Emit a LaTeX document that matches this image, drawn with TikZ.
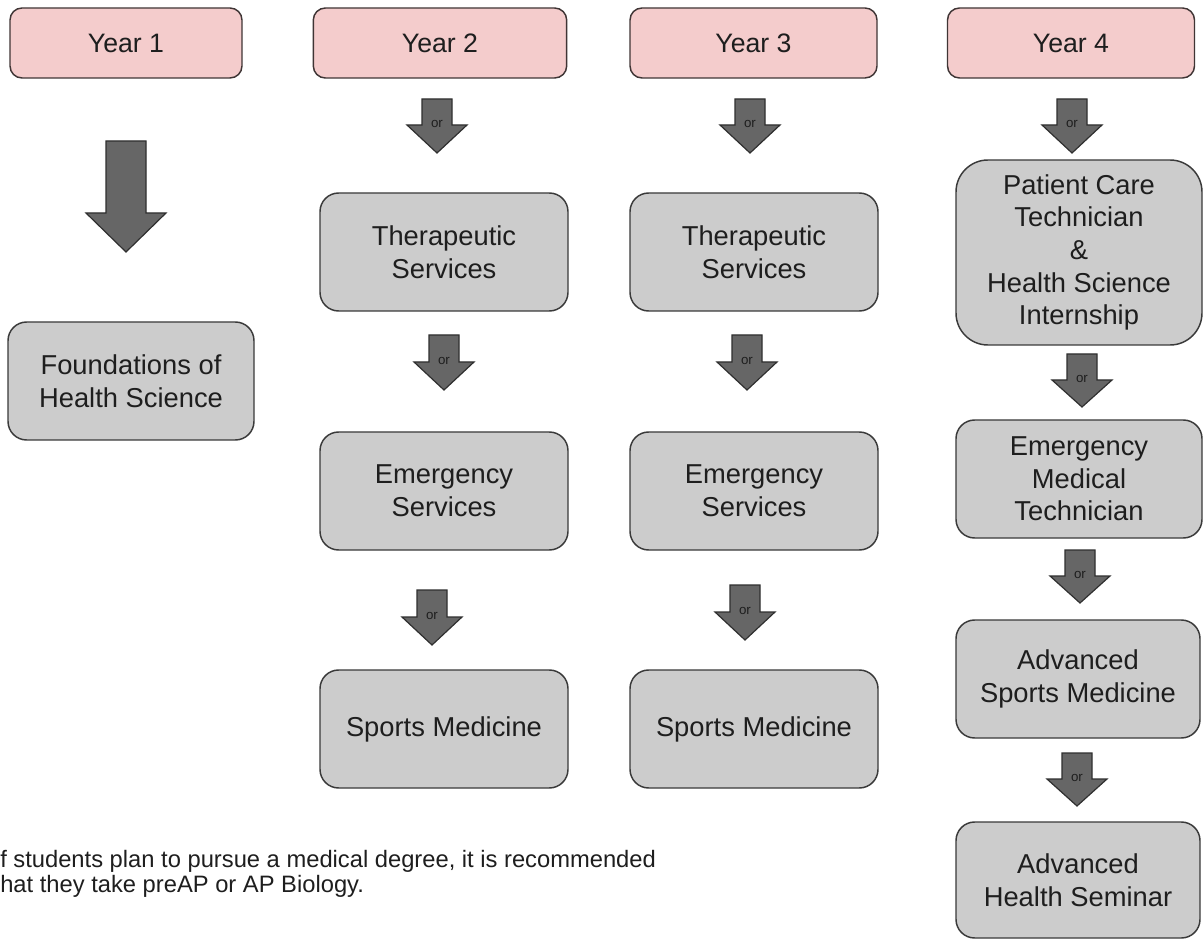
\documentclass[tikz,border=0pt]{standalone}
\usepackage{fontspec}
\setmainfont{Liberation Sans}
\definecolor{pinkfill}{HTML}{F4CCCC}
\definecolor{pinkdraw}{HTML}{3F3535}
\definecolor{greyfill}{HTML}{CCCCCC}
\definecolor{greydraw}{HTML}{3A3A3A}
\definecolor{arrfill}{HTML}{666666}
\definecolor{arrdraw}{HTML}{2F2F2F}
\definecolor{txt}{HTML}{1E1E1E}
\tikzset{
  yearbox/.style={draw=pinkdraw, fill=pinkfill, line width=1.1pt, rounded corners=9pt,
    inner sep=0pt, outer sep=0pt, minimum height=52.5pt, text=txt,
    font=\fontsize{20}{24}\selectfont},
  coursebox/.style={draw=greydraw, fill=greyfill, line width=1.1pt, rounded corners=14pt,
    inner sep=0pt, outer sep=0pt, minimum height=88.5pt, text=txt, align=center,
    font=\fontsize{20.5}{24.5}\selectfont},
  flowarr/.style={draw=arrdraw, fill=arrfill, line width=0.9pt, line join=miter},
  ortext/.style={inner sep=0pt, text=txt, font=\fontsize{10}{11}\selectfont},
  notetext/.style={inner sep=0pt, text=txt, align=left, font=\fontsize{17.8}{18.75}\selectfont}
}
% name, cx, top, base, tip
\newcommand{\orarrow}[5]{%
  \draw[flowarr] ({#2-15},#3) -- ({#2+15},#3) -- ({#2+15},#4) -- ({#2+30},#4) -- (#2,#5)
    -- ({#2-30},#4) -- ({#2-15},#4) -- cycle;
  \node[ortext] (#1) at (#2,{#4-1}) {or};}
\begin{document}
\begin{tikzpicture}[x=0.75pt,y=-0.75pt]
\useasboundingbox (0,0) rectangle (1204,941);
\fill[white] (0,0) rectangle (1204,941);

% year headers
\node[yearbox, minimum width=174pt] (y1) at (126,43) {Year 1};
\node[yearbox, minimum width=190pt] (y2) at (440,43) {Year 2};
\node[yearbox, minimum width=185.25pt] (y3) at (753.5,43) {Year 3};
\node[yearbox, minimum width=185.25pt] (y4) at (1071,43) {Year 4};

% year 1
\draw[flowarr] (106,141) -- (146,141) -- (146,213) -- (166,213) -- (126,252)
  -- (86,213) -- (106,213) -- cycle;
\node[coursebox, minimum width=184.5pt] (found) at (131,381) {Foundations of\\Health Science};

% year 2
\orarrow{o2a}{437}{99}{125}{153}
\node[coursebox, minimum width=186pt] (ther2) at (444,252) {Therapeutic\\Services};
\orarrow{o2b}{444}{335}{362}{390}
\node[coursebox, minimum width=186pt] (emer2) at (444,491) {Emergency\\Services};
\orarrow{o2c}{432}{590}{617}{645}
\node[coursebox, minimum width=186pt] (sport2) at (444,729) {Sports Medicine};

% year 3
\orarrow{o3a}{750}{99}{125}{153}
\node[coursebox, minimum width=186pt] (ther3) at (754,252) {Therapeutic\\Services};
\orarrow{o3b}{747}{335}{362}{390}
\node[coursebox, minimum width=186pt] (emer3) at (754,491) {Emergency\\Services};
\orarrow{o3c}{745}{585}{612}{640}
\node[coursebox, minimum width=186pt] (sport3) at (754,729) {Sports Medicine};

% year 4
\orarrow{o4a}{1072}{99}{125}{153}
\node[coursebox, minimum width=184.5pt, minimum height=138.75pt, rounded corners=24pt]
  (pct) at (1079,252.5) {Patient Care\\Technician\\\&\\Health Science\\Internship};
\orarrow{o4b}{1082}{354}{380}{407}
\node[coursebox, minimum width=184.5pt] (emt) at (1079,479) {Emergency\\Medical\\Technician};
\orarrow{o4c}{1080}{550}{576}{603}
\node[coursebox, minimum width=183pt] (advsport) at (1078,679) {Advanced\\Sports Medicine};
\orarrow{o4d}{1077}{753}{779}{806}
\node[coursebox, minimum width=183pt, minimum height=87pt] (advhealth) at (1078,880) {Advanced\\Health Seminar};

% note
\node[notetext, anchor=west] (note) at (0,873.5)
  {f students plan to pursue a medical degree, it is recommended\\hat they take preAP or AP Biology.};
\end{tikzpicture}
\end{document}
